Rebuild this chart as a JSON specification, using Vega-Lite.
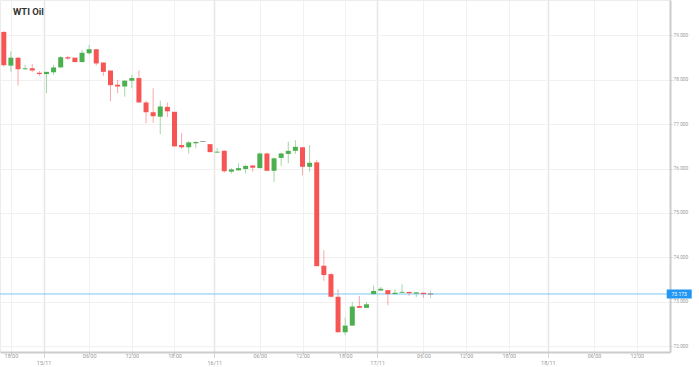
{
  "$schema": "https://vega.github.io/schema/vega-lite/v6.json",
  "width": 670,
  "height": 352,
  "autosize": "none",
  "padding": {"left": 0, "top": 0, "right": 29, "bottom": 15},
  "background": "#ffffff",
  "config": {
    "view": {"stroke": "#ececec"},
    "font": "Roboto"
  },
  "data": {"values": [
    {"i": -1, "t": "2023-11-14 17:00", "open": 79.08, "high": 79.10, "low": 78.30, "close": 78.33},
    {"i": 0, "t": "2023-11-14 18:00", "open": 78.32, "high": 78.64, "low": 78.18, "close": 78.50},
    {"i": 1, "t": "2023-11-14 19:00", "open": 78.50, "high": 78.52, "low": 77.87, "close": 78.24},
    {"i": 2, "t": "2023-11-14 20:00", "open": 78.24, "high": 78.34, "low": 78.22, "close": 78.26},
    {"i": 3, "t": "2023-11-14 21:00", "open": 78.26, "high": 78.36, "low": 78.18, "close": 78.21},
    {"i": 4, "t": "2023-11-14 22:00", "open": 78.16, "high": 78.20, "low": 78.09, "close": 78.13},
    {"i": 5, "t": "2023-11-15 00:00", "open": 78.13, "high": 78.18, "low": 77.70, "close": 78.18},
    {"i": 6, "t": "2023-11-15 01:00", "open": 78.17, "high": 78.34, "low": 78.11, "close": 78.28},
    {"i": 7, "t": "2023-11-15 02:00", "open": 78.28, "high": 78.54, "low": 78.28, "close": 78.51},
    {"i": 8, "t": "2023-11-15 03:00", "open": 78.51, "high": 78.54, "low": 78.45, "close": 78.48},
    {"i": 9, "t": "2023-11-15 04:00", "open": 78.50, "high": 78.50, "low": 78.40, "close": 78.40},
    {"i": 10, "t": "2023-11-15 05:00", "open": 78.40, "high": 78.67, "low": 78.40, "close": 78.61},
    {"i": 11, "t": "2023-11-15 06:00", "open": 78.60, "high": 78.79, "low": 78.57, "close": 78.69},
    {"i": 12, "t": "2023-11-15 07:00", "open": 78.69, "high": 78.69, "low": 78.32, "close": 78.37},
    {"i": 13, "t": "2023-11-15 08:00", "open": 78.39, "high": 78.39, "low": 78.09, "close": 78.18},
    {"i": 14, "t": "2023-11-15 09:00", "open": 78.21, "high": 78.21, "low": 77.52, "close": 77.88},
    {"i": 15, "t": "2023-11-15 10:00", "open": 77.89, "high": 78.00, "low": 77.70, "close": 77.85},
    {"i": 16, "t": "2023-11-15 11:00", "open": 77.85, "high": 78.00, "low": 77.62, "close": 77.98},
    {"i": 17, "t": "2023-11-15 12:00", "open": 77.98, "high": 78.11, "low": 77.81, "close": 78.04},
    {"i": 18, "t": "2023-11-15 13:00", "open": 78.04, "high": 78.22, "low": 77.49, "close": 77.49},
    {"i": 19, "t": "2023-11-15 14:00", "open": 77.49, "high": 77.53, "low": 77.02, "close": 77.27},
    {"i": 20, "t": "2023-11-15 15:00", "open": 77.27, "high": 77.81, "low": 77.03, "close": 77.18},
    {"i": 21, "t": "2023-11-15 16:00", "open": 77.17, "high": 77.53, "low": 76.77, "close": 77.40},
    {"i": 22, "t": "2023-11-15 17:00", "open": 77.39, "high": 77.49, "low": 77.16, "close": 77.29},
    {"i": 23, "t": "2023-11-15 18:00", "open": 77.28, "high": 77.28, "low": 76.50, "close": 76.50},
    {"i": 24, "t": "2023-11-15 19:00", "open": 76.53, "high": 76.80, "low": 76.44, "close": 76.48},
    {"i": 25, "t": "2023-11-15 20:00", "open": 76.48, "high": 76.62, "low": 76.34, "close": 76.59},
    {"i": 26, "t": "2023-11-15 21:00", "open": 76.57, "high": 76.61, "low": 76.46, "close": 76.60},
    {"i": 27, "t": "2023-11-15 22:00", "open": 76.61, "high": 76.62, "low": 76.60, "close": 76.61},
    {"i": 28, "t": "2023-11-15 23:00", "open": 76.55, "high": 76.55, "low": 76.37, "close": 76.37},
    {"i": 29, "t": "2023-11-16 00:00", "open": 76.36, "high": 76.46, "low": 76.36, "close": 76.38},
    {"i": 30, "t": "2023-11-16 01:00", "open": 76.40, "high": 76.42, "low": 75.91, "close": 75.94},
    {"i": 31, "t": "2023-11-16 02:00", "open": 75.93, "high": 76.01, "low": 75.89, "close": 75.98},
    {"i": 32, "t": "2023-11-16 03:00", "open": 75.96, "high": 76.12, "low": 75.95, "close": 76.01},
    {"i": 33, "t": "2023-11-16 04:00", "open": 75.99, "high": 76.08, "low": 75.89, "close": 76.06},
    {"i": 34, "t": "2023-11-16 05:00", "open": 76.07, "high": 76.07, "low": 75.93, "close": 76.02},
    {"i": 35, "t": "2023-11-16 06:00", "open": 76.01, "high": 76.36, "low": 76.01, "close": 76.34},
    {"i": 36, "t": "2023-11-16 07:00", "open": 76.34, "high": 76.36, "low": 75.95, "close": 75.95},
    {"i": 37, "t": "2023-11-16 08:00", "open": 75.95, "high": 76.25, "low": 75.70, "close": 76.23},
    {"i": 38, "t": "2023-11-16 09:00", "open": 76.24, "high": 76.36, "low": 76.06, "close": 76.34},
    {"i": 39, "t": "2023-11-16 10:00", "open": 76.33, "high": 76.61, "low": 76.12, "close": 76.40},
    {"i": 40, "t": "2023-11-16 11:00", "open": 76.40, "high": 76.64, "low": 76.33, "close": 76.49},
    {"i": 41, "t": "2023-11-16 12:00", "open": 76.48, "high": 76.48, "low": 75.85, "close": 76.04},
    {"i": 42, "t": "2023-11-16 13:00", "open": 76.04, "high": 76.53, "low": 75.93, "close": 76.13},
    {"i": 43, "t": "2023-11-16 14:00", "open": 76.14, "high": 76.19, "low": 73.80, "close": 73.80},
    {"i": 44, "t": "2023-11-16 15:00", "open": 73.81, "high": 74.16, "low": 73.47, "close": 73.60},
    {"i": 45, "t": "2023-11-16 16:00", "open": 73.62, "high": 73.65, "low": 73.10, "close": 73.11},
    {"i": 46, "t": "2023-11-16 17:00", "open": 73.11, "high": 73.28, "low": 72.31, "close": 72.31},
    {"i": 47, "t": "2023-11-16 18:00", "open": 72.31, "high": 72.64, "low": 72.25, "close": 72.46},
    {"i": 48, "t": "2023-11-16 19:00", "open": 72.46, "high": 72.99, "low": 72.46, "close": 72.89},
    {"i": 49, "t": "2023-11-16 20:00", "open": 72.90, "high": 73.13, "low": 72.86, "close": 72.86},
    {"i": 50, "t": "2023-11-16 21:00", "open": 72.86, "high": 72.99, "low": 72.86, "close": 72.94},
    {"i": 51, "t": "2023-11-16 22:00", "open": 73.17, "high": 73.36, "low": 73.17, "close": 73.24},
    {"i": 52, "t": "2023-11-17 00:00", "open": 73.25, "high": 73.33, "low": 73.25, "close": 73.29},
    {"i": 53, "t": "2023-11-17 01:00", "open": 73.26, "high": 73.26, "low": 72.92, "close": 73.17},
    {"i": 54, "t": "2023-11-17 02:00", "open": 73.17, "high": 73.28, "low": 73.17, "close": 73.20},
    {"i": 55, "t": "2023-11-17 03:00", "open": 73.20, "high": 73.39, "low": 73.20, "close": 73.22},
    {"i": 56, "t": "2023-11-17 04:00", "open": 73.22, "high": 73.22, "low": 73.13, "close": 73.19},
    {"i": 57, "t": "2023-11-17 05:00", "open": 73.18, "high": 73.21, "low": 73.10, "close": 73.21},
    {"i": 58, "t": "2023-11-17 06:00", "open": 73.20, "high": 73.20, "low": 73.09, "close": 73.17},
    {"i": 59, "t": "2023-11-17 07:00", "open": 73.173, "high": 73.25, "low": 73.08, "close": 73.173}
  ]},
  "layer": [
    {
      "mark": {"type": "rule", "strokeWidth": 1, "opacity": 0.5},
      "encoding": {
        "x": {
          "field": "i", "type": "quantitative",
          "scale": {"domain": [-0.831, 91.97], "nice": false, "zero": false},
          "axis": {
            "title": null,
            "values": [0, 4.6, 11, 17, 23, 28.6, 35, 41, 47, 51.5, 58, 64, 70, 75.5, 82, 88],
            "labelExpr": "datum.value % 1 != 0 ? [' ', ['18:00','15/11','06:00','12:00','18:00','16/11','06:00','12:00','18:00','17/11','06:00','12:00','18:00','18/11','06:00','12:00'][indexof([0, 4.6, 11, 17, 23, 28.6, 35, 41, 47, 51.5, 58, 64, 70, 75.5, 82, 88], datum.value)]] : ['18:00','15/11','06:00','12:00','18:00','16/11','06:00','12:00','18:00','17/11','06:00','12:00','18:00','18/11','06:00','12:00'][indexof([0, 4.6, 11, 17, 23, 28.6, 35, 41, 47, 51.5, 58, 64, 70, 75.5, 82, 88], datum.value)]",
            "labelFontSize": 5.5,
            "labelColor": "#9a9a9a",
            "labelFont": "Roboto",
            "labelBaseline": "top",
            "labelLineHeight": 3,
            "labelPadding": -1,
            "labelOverlap": false,
            "labelBound": false,
            "labelFlush": false,
            "tickSize": {"condition": {"test": "datum.value % 1 != 0", "value": 6}, "value": 2},
            "tickDash": {"condition": {"test": "datum.value % 1 != 0", "value": [1, 1]}, "value": []},
            "tickColor": "#a8a8a8",
            "domainColor": "#cccccc",
            "domainWidth": 2,
            "grid": true,
            "gridColor": {"condition": {"test": "datum.value % 1 != 0", "value": "#e6e6e6"}, "value": "#f1f1f1"},
            "gridWidth": {"condition": {"test": "datum.value % 1 != 0", "value": 1.5}, "value": 1}
          }
        },
        "y": {
          "field": "low", "type": "quantitative",
          "scale": {"domain": [71.865, 79.8], "nice": false, "zero": false},
          "axis": {
            "orient": "right",
            "title": null,
            "values": [72, 73, 74, 75, 76, 77, 78, 79],
            "format": ".3f",
            "labelFontSize": 4.8,
            "labelColor": "#9a9a9a",
            "labelFont": "Roboto",
            "labelPadding": 1,
            "tickSize": 2,
            "tickColor": "#c8c8c8",
            "domainColor": "#cccccc",
            "domainWidth": 2,
            "grid": true,
            "gridColor": "#f1f1f1"
          }
        },
        "y2": {"field": "high"},
        "color": {"condition": [{"test": "datum.close > datum.open", "value": "#4caf50"}, {"test": "datum.close < datum.open", "value": "#f75454"}], "value": "#9e9e9e"}
      }
    },
    {
      "data": {"values": [{"last": 73.173, "label": "73.173"}]},
      "mark": {"type": "rule", "color": "#7cc6f4", "strokeWidth": 1},
      "encoding": {"y": {"field": "last", "type": "quantitative"}}
    },
    {
      "mark": {"type": "bar", "size": 5, "strokeWidth": 1},
      "encoding": {
        "x": {"field": "i", "type": "quantitative"},
        "y": {"field": "open", "type": "quantitative"},
        "y2": {"field": "close"},
        "color": {"condition": [{"test": "datum.close > datum.open", "value": "#4caf50"}, {"test": "datum.close < datum.open", "value": "#f75454"}], "value": "#9e9e9e"},
        "stroke": {"condition": {"test": "datum.close == datum.open", "value": "#9e9e9e"}, "value": "transparent"},
        "tooltip": [{"field": "t"}, {"field": "open"}, {"field": "high"}, {"field": "low"}, {"field": "close"}]
      }
    },
    {
      "data": {"values": [{"last": 73.173, "label": "73.173"}]},
      "mark": {"type": "point", "shape": "M-1,-0.36L1,-0.36L1,0.36L-1,0.36Z", "size": 625, "filled": true, "opacity": 1, "color": "#2196f3", "clip": false},
      "encoding": {
        "x": {"datum": 93.97, "type": "quantitative"},
        "y": {"field": "last", "type": "quantitative"}
      }
    },
    {
      "data": {"values": [{"last": 73.173, "label": "73.173"}]},
      "mark": {"type": "text", "color": "#ffffff", "fontSize": 5, "font": "Roboto", "align": "center", "baseline": "middle", "clip": false},
      "encoding": {
        "x": {"datum": 93.97, "type": "quantitative"},
        "y": {"field": "last", "type": "quantitative"},
        "text": {"field": "label"}
      }
    },
    {
      "data": {"values": [{"name": "WTI Oil"}]},
      "mark": {"type": "text", "color": "#333333", "fontSize": 9.5, "fontWeight": "bold", "font": "Roboto", "align": "left", "baseline": "alphabetic"},
      "encoding": {
        "x": {"datum": 0.28, "type": "quantitative"},
        "y": {"datum": 79.46, "type": "quantitative"},
        "text": {"field": "name"}
      }
    }
  ]
}
